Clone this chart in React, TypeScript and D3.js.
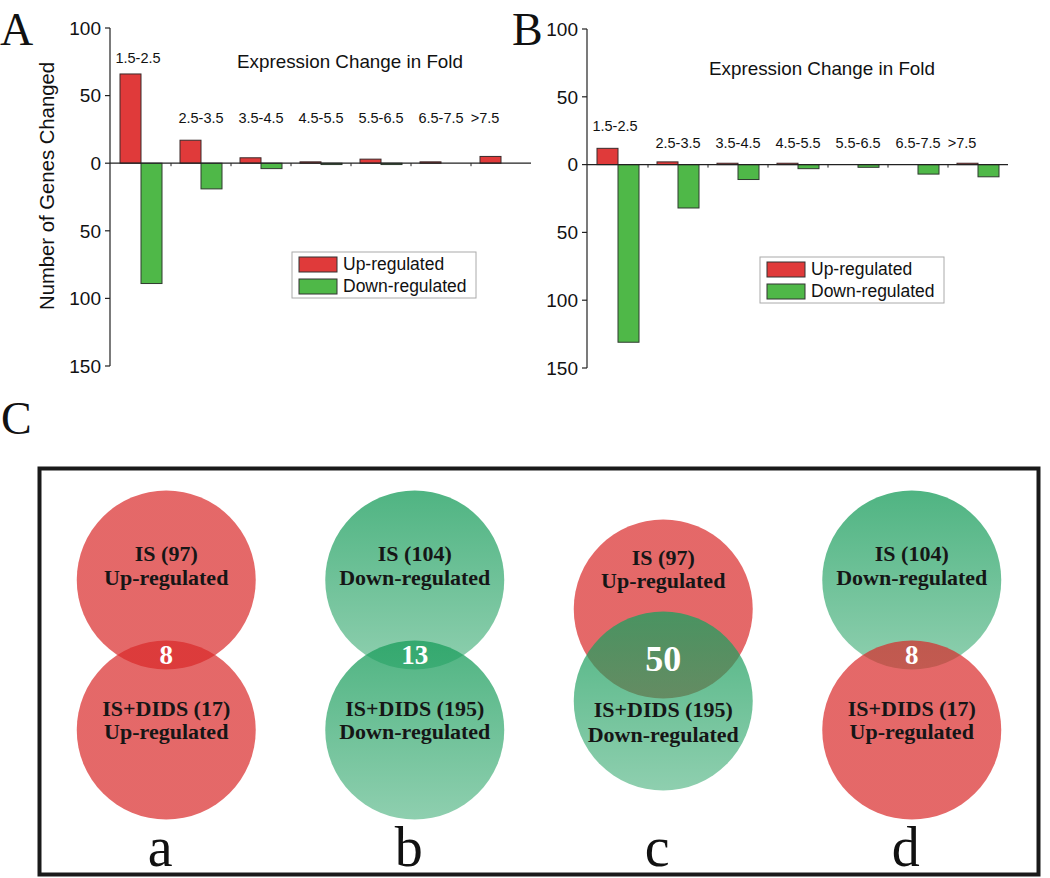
import React from "react";
import * as d3 from "d3";

// ---------- data ----------
const categories = ["1.5-2.5", "2.5-3.5", "3.5-4.5", "4.5-5.5", "5.5-6.5", "6.5-7.5", ">7.5"];
const upA = [66, 17, 4, 1, 3, 1, 5];
const downA = [89, 19, 4, 1, 1, 0, 0];
const upB = [12, 2, 1, 1, 0, 0, 1];
const downB = [131, 32, 11, 3, 2, 7, 9];
const yTicks = [100, 50, 0, -50, -100, -150];
const seriesNames = ["Up-regulated", "Down-regulated"];
const chartTitle = "Expression Change in Fold";
const yAxisTitle = "Number of Genes Changed";

const vennPanels = ["a", "b", "c", "d"];
const vennTopLabels = ["IS (97)", "IS (104)", "IS (97)", "IS (104)"];
const vennTopKinds = ["up", "down", "up", "down"];
const vennBottomLabels = ["IS+DIDS (17)", "IS+DIDS (195)", "IS+DIDS (195)", "IS+DIDS (17)"];
const vennBottomKinds = ["up", "down", "down", "up"];
const vennOverlaps = [8, 13, 50, 8];

const kindText: Record<string, string> = { up: "Up-regulated", down: "Down-regulated" };

const RED = "#e03a3a";
const GREEN = "#4fb848";
const SANS = "'Liberation Sans', Arial, sans-serif";
const SERIF = "'Liberation Serif', 'Times New Roman', serif";

type PanelProps = {
  up: number[];
  down: number[];
  axisX: number;
  yTop: number;
  yBottom: number;
  groupStart: number;
  titleX: number;
  titleY: number;
  firstLabelY: number;
  labelY: number;
  legendX: number;
  legendY: number;
  showYTitle: boolean;
};

function BarPanel(p: PanelProps) {
  const y = d3.scaleLinear().domain([-150, 100]).range([p.yBottom, p.yTop]);
  const x = d3.scaleBand<string>().domain(categories).range([p.groupStart, p.groupStart + 420]).padding(0);
  const sub = d3.scaleBand<string>().domain(["up", "down"]).range([0, 42]).padding(0);
  const y0 = y(0);
  const lineEnd = (x(categories[categories.length - 1]) as number) + 51;
  return (
    <g>
      {/* bars */}
      {categories.map((c, i) => {
        const gx = x(c) as number;
        const u = p.up[i];
        const d = p.down[i];
        return (
          <g key={c}>
            {u > 0 && (
              <rect x={gx + (sub("up") as number)} y={y(u)} width={sub.bandwidth()} height={y0 - y(u)}
                fill={RED} stroke="#3a2a2a" strokeWidth={1} />
            )}
            {d > 0 && (
              <rect x={gx + (sub("down") as number)} y={y0} width={sub.bandwidth()} height={y(-d) - y0}
                fill={GREEN} stroke="#2f3a2f" strokeWidth={1} />
            )}
          </g>
        );
      })}
      {/* zero line */}
      <line x1={p.axisX} x2={lineEnd} y1={y0} y2={y0} stroke="#222" strokeWidth={1.2} />
      {categories.slice(1).map((c) => (
        <line key={"t" + c} x1={(x(c) as number) - 9} x2={(x(c) as number) - 9} y1={y0} y2={y0 + 3}
          stroke="#222" strokeWidth={1} />
      ))}
      {/* y axis */}
      <line x1={p.axisX} x2={p.axisX} y1={y(100)} y2={y(-150)} stroke="#222" strokeWidth={1.2} />
      {yTicks.map((t) => (
        <g key={t}>
          <line x1={p.axisX - 5} x2={p.axisX} y1={y(t)} y2={y(t)} stroke="#222" strokeWidth={1.2} />
          <text x={p.axisX - 9} y={y(t)} dy="0.36em" textAnchor="end" fontFamily={SANS} fontSize={19} fill="#111">
            {Math.abs(t)}
          </text>
        </g>
      ))}
      {/* category labels */}
      {categories.map((c, i) => {
        const cx = (x(c) as number) + 21 + (i === categories.length - 1 ? -16 : 0) + (i === 0 ? -3 : 0);
        return (
          <text key={"l" + c} x={cx} y={i === 0 ? p.firstLabelY : p.labelY} textAnchor="middle"
            fontFamily={SANS} fontSize={14.5} fill="#111">
            {c}
          </text>
        );
      })}
      {/* title */}
      <text x={p.titleX} y={p.titleY} textAnchor="middle" fontFamily={SANS} fontSize={19} fill="#111"
        textLength={226} lengthAdjust="spacingAndGlyphs">
        {chartTitle}
      </text>
      {p.showYTitle && (
        <text transform={`translate(54,186) rotate(-90)`} textAnchor="middle" fontFamily={SANS} fontSize={20}
          fill="#111" textLength={248} lengthAdjust="spacingAndGlyphs">
          {yAxisTitle}
        </text>
      )}
      {/* legend */}
      <g transform={`translate(${p.legendX},${p.legendY})`}>
        <rect x={0} y={0} width={184} height={46} fill="#fff" stroke="#aaa" strokeWidth={1} />
        {seriesNames.map((s, i) => (
          <g key={s} transform={`translate(0,${i * 22})`}>
            <rect x={7} y={5} width={38} height={15} fill={i === 0 ? RED : GREEN} stroke="#333" strokeWidth={1} />
            <text x={51} y={18} fontFamily={SANS} fontSize={17.5} fill="#111">{s}</text>
          </g>
        ))}
      </g>
    </g>
  );
}

function Venn() {
  const bx = d3.scaleBand<string>().domain(vennPanels).range([42, 1036]).padding(0);
  const midY = 655;
  const r = 89.5;
  const fillFor = (k: string) => (k === "up" ? "url(#redFill)" : "url(#greenFill)");
  return (
    <g>
      <defs>
        <linearGradient id="greenFill" x1="0" y1="0" x2="0" y2="1">
          <stop offset="0" stopColor="#1e9f5f" stopOpacity={0.78} />
          <stop offset="1" stopColor="#1e9f5f" stopOpacity={0.5} />
        </linearGradient>
        <linearGradient id="redFill" x1="0" y1="0" x2="0" y2="1">
          <stop offset="0" stopColor="#d92828" stopOpacity={0.7} />
          <stop offset="1" stopColor="#d92828" stopOpacity={0.7} />
        </linearGradient>
      </defs>
      <rect x={39.5} y={468.5} width={999} height={406} fill="none" stroke="#1a1a1a" strokeWidth={4} />
      {vennPanels.map((p, i) => {
        const cx = (bx(p) as number) + bx.bandwidth() / 2;
        const big = vennOverlaps[i] > 20;
        const gap = big ? 92 : 150;
        const ty = midY - gap / 2;
        const by = midY + gap / 2;
        const topOff = big ? [-44, -21] : [-19, 5];
        const botOff = big ? [16, 41] : [-14, 9];
        return (
          <g key={p}>
            <circle cx={cx} cy={ty} r={r} fill={fillFor(vennTopKinds[i])} />
            <circle cx={cx} cy={by} r={r} fill={fillFor(vennBottomKinds[i])} />
            <g fontFamily={SERIF} fontWeight="bold" fontSize={22} fill="#161616" textAnchor="middle">
              <text x={cx} y={ty + topOff[0]}>{vennTopLabels[i]}</text>
              <text x={cx} y={ty + topOff[1]}>{kindText[vennTopKinds[i]]}</text>
              <text x={cx} y={by + botOff[0]}>{vennBottomLabels[i]}</text>
              <text x={cx} y={by + botOff[1]}>{kindText[vennBottomKinds[i]]}</text>
            </g>
            <text x={cx} y={midY + (big ? 16 : 9)} textAnchor="middle" fontFamily={SERIF} fontWeight="bold"
              fontSize={big ? 36 : 27} fill="#fff">
              {vennOverlaps[i]}
            </text>
            <text x={cx - 6} y={866} textAnchor="middle" fontFamily={SERIF} fontSize={56} fill="#111">{p}</text>
          </g>
        );
      })}
    </g>
  );
}

export default function App() {
  return (
    <svg width={1050} height={878} viewBox="0 0 1050 878"
      style={{ position: "absolute", left: 0, top: 0, background: "#fff", display: "block" }}>
      <rect x={0} y={0} width={1050} height={878} fill="#fff" />
      <text x={0} y={45} fontFamily={SERIF} fontSize={46} fill="#111">A</text>
      <text x={512} y={45} fontFamily={SERIF} fontSize={46} fill="#111">B</text>
      <text x={1} y={434} fontFamily={SERIF} fontSize={46} fill="#111">C</text>
      <BarPanel up={upA} down={downA} axisX={110} yTop={28} yBottom={366} groupStart={120}
        titleX={350} titleY={68} firstLabelY={63} labelY={123} legendX={292} legendY={252} showYTitle={true} />
      <BarPanel up={upB} down={downB} axisX={587} yTop={29} yBottom={368} groupStart={597}
        titleX={822} titleY={75} firstLabelY={131} labelY={148} legendX={760} legendY={257} showYTitle={false} />
      <Venn />
    </svg>
  );
}
